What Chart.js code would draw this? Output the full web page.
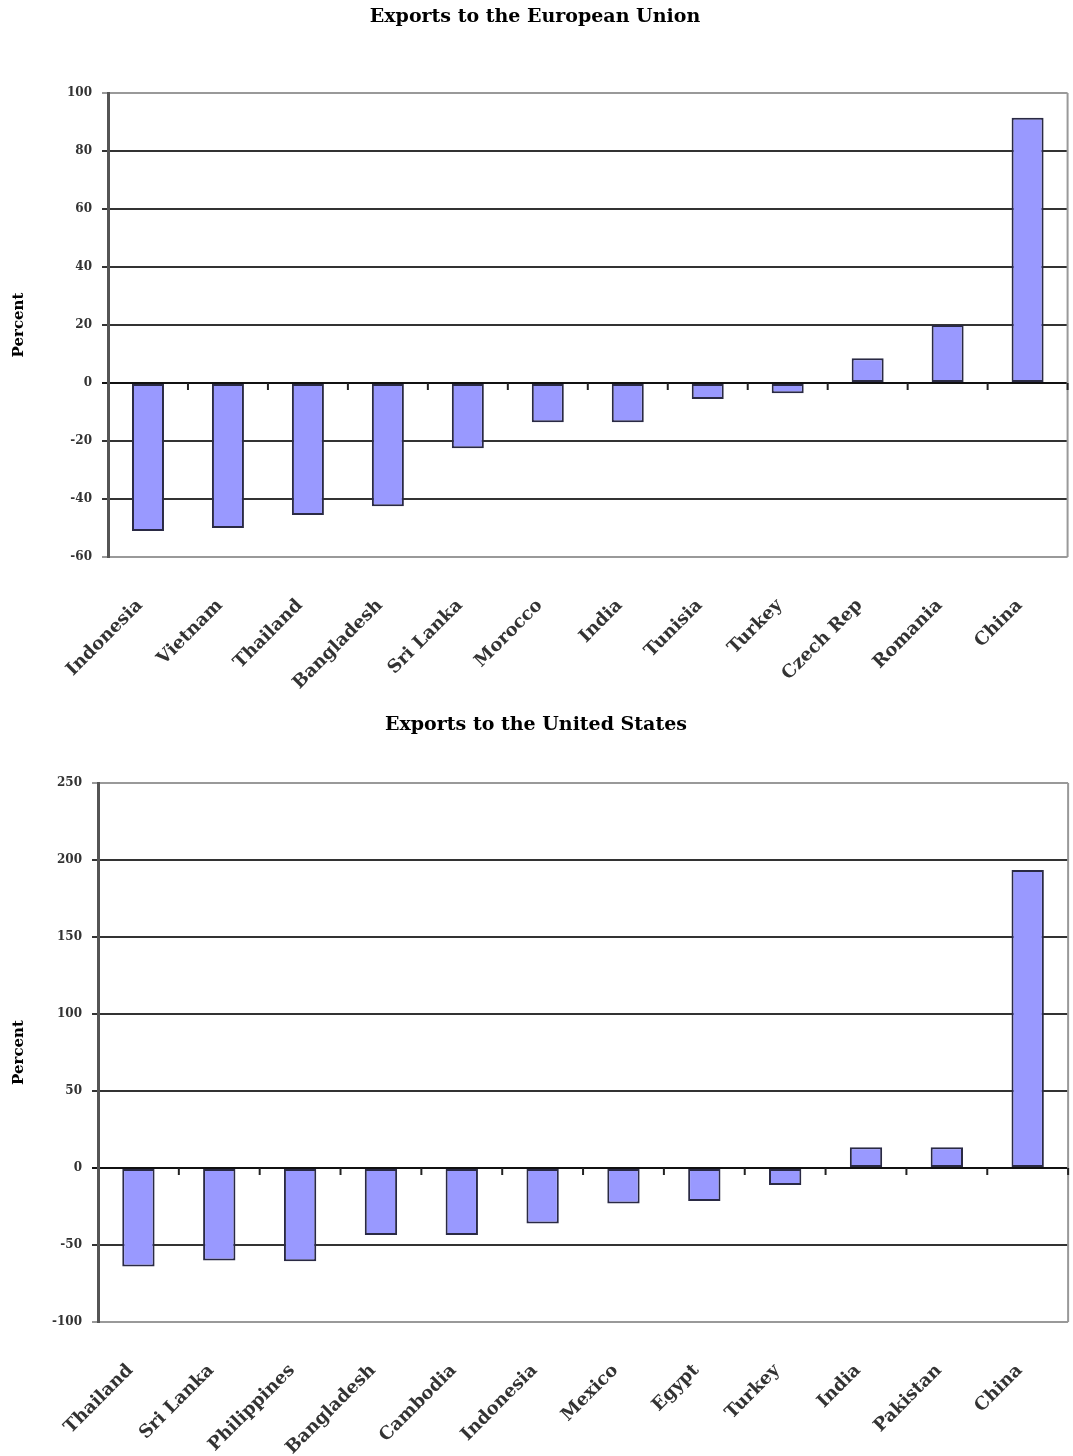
<!DOCTYPE html>
<html>
<head>
<meta charset="utf-8">
<script src="https://cdn.jsdelivr.net/npm/chart.js@4/dist/chart.umd.min.js"></script>
<style>
  body { margin: 0; background: #fff; }
  #wrapEU { position: absolute; left: 0; top: 0; width: 1073px; height: 700px; }
  #wrapUS { position: absolute; left: 0; top: 700px; width: 1073px; height: 756px; }
</style>
</head>
<body>
<div id="wrapEU"><canvas id="exportsEU"></canvas></div>
<div id="wrapUS"><canvas id="exportsUS"></canvas></div>
<script>
// Exportaciones a la UE (cambio en %)
const euCountries = ['Indonesia', 'Vietnam', 'Thailand', 'Bangladesh', 'Sri Lanka', 'Morocco', 'India', 'Tunisia', 'Turkey', 'Czech Rep', 'Romania', 'China'];
const euValues = [-51, -50, -45.5, -42.5, -22.5, -13.5, -13.5, -5.5, -3.5, 8.5, 20, 91.5];
const euAxis = [-60, 100, 20]; // min, max, paso

// Exportaciones a EEUU (cambio en %)
const usCountries = ['Thailand', 'Sri Lanka', 'Philippines', 'Bangladesh', 'Cambodia', 'Indonesia', 'Mexico', 'Egypt', 'Turkey', 'India', 'Pakistan', 'China'];
const usValues = [-64, -60, -60.5, -43.5, -43.5, -36, -23, -21.5, -11, 13.5, 13.5, 193.5];
const usAxis = [-100, 250, 50];

const font = 'DejaVu Serif';

// marco derecho y marcas del eje x sobre la linea del cero
const frame = {
  id: 'frame',
  afterDraw(chart) {
    const { ctx, chartArea: a, scales: { y } } = chart;
    const zero = y.getPixelForValue(0);
    const n = chart.data.labels.length;
    const w = (a.right - a.left) / n;
    ctx.save();
    ctx.strokeStyle = '#999';
    ctx.lineWidth = 2;
    ctx.beginPath();
    ctx.moveTo(a.right, a.top);
    ctx.lineTo(a.right, a.bottom);
    ctx.stroke();
    ctx.strokeStyle = '#222';
    for (let i = 1; i <= n; i++) {
      const px = a.left + i * w;
      ctx.beginPath();
      ctx.moveTo(px, zero);
      ctx.lineTo(px, zero + 7);
      ctx.stroke();
    }
    ctx.restore();
  }
};

function makeChart(id, title, labels, values, axis, cfg) {
  const ctx = document.getElementById(id).getContext('2d');
  return new Chart(ctx, {
    type: 'bar',
    data: {
      labels: labels,
      datasets: [{
        data: values,
        backgroundColor: '#9999FF',
        borderColor: '#2a2a44',
        borderWidth: 2,
        borderSkipped: false,
        barPercentage: 0.4,
        categoryPercentage: 1
      }]
    },
    options: {
      responsive: true,
      maintainAspectRatio: false,
      animation: false,
      layout: { padding: { left: 0, right: cfg.right, top: 0, bottom: 0 } },
      plugins: {
        legend: { display: false },
        tooltip: { enabled: false },
        title: {
          display: true,
          text: title,
          color: '#000',
          font: { family: font, size: 19, weight: 'bold' },
          padding: { top: cfg.titleTop, bottom: cfg.titleBottom }
        }
      },
      scales: {
        x: {
          grid: { display: false },
          border: { display: false },
          ticks: {
            color: '#333',
            font: { family: font, size: 18, weight: 'bold' },
            minRotation: 45,
            maxRotation: 45,
            padding: cfg.labelPad,
            labelOffset: -8,
            autoSkip: false
          },
          afterFit: s => { s.height = cfg.xHeight; }
        },
        y: {
          min: axis[0],
          max: axis[1],
          ticks: {
            stepSize: axis[2],
            color: '#333',
            font: { family: font, size: 12, weight: 'bold' },
            padding: 10
          },
          grid: {
            lineWidth: 2,
            tickLength: 6,
            color: c => {
              if (c.tick.value === 0) return '#111';
              if (c.tick.value === axis[0] || c.tick.value === axis[1]) return '#999';
              return '#333';
            }
          },
          border: { display: true, color: '#555', width: 3 },
          title: {
            display: true,
            text: 'Percent',
            color: '#000',
            font: { family: font, size: 15, weight: 'bold' },
            padding: { top: 10, bottom: 0 }
          },
          afterFit: s => { s.width = cfg.yWidth; }
        }
      }
    },
    plugins: [frame]
  });
}

makeChart('exportsEU', 'Exports to the European Union', euCountries, euValues, euAxis,
  { right: 3, titleTop: 6, titleBottom: 64.2, xHeight: 143, yWidth: 108, labelPad: 30 });
makeChart('exportsUS', 'Exports to the United States', usCountries, usValues, usAxis,
  { right: 1, titleTop: 14, titleBottom: 46.2, xHeight: 134, yWidth: 98, labelPad: 30 });
</script>
</body>
</html>
